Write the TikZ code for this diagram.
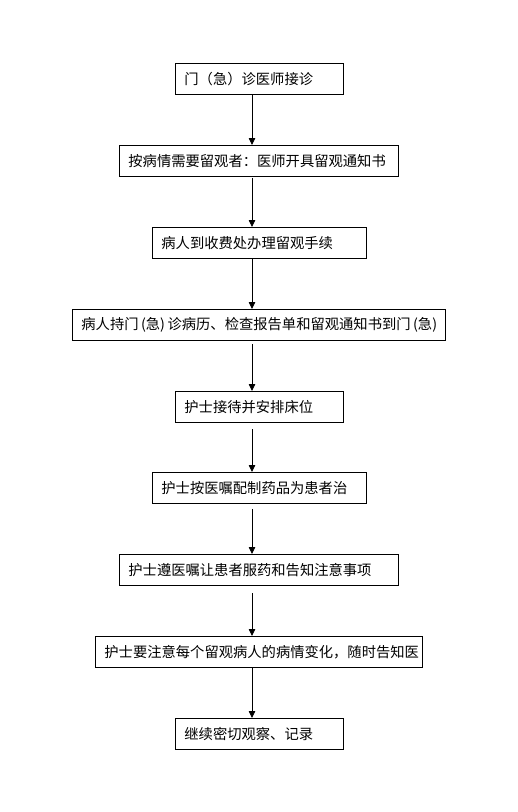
\documentclass[tikz,border=0pt]{standalone}
\usepackage{fontspec}
\setmainfont{Noto Sans CJK SC}
\usetikzlibrary{arrows.meta}
\begin{document}
\begin{tikzpicture}[x=1pt,y=-1pt,
  flowbox/.style={draw=black,line width=0.8pt,rectangle,anchor=north west,
    inner xsep=9pt,inner ysep=0pt,minimum height=31pt,align=left,
    font=\fontsize{14.3pt}{16pt}\selectfont},
  flowarrow/.style={draw=black,line width=0.8pt,-{Triangle[length=7pt,width=6.5pt]}}]
\useasboundingbox[fill=white] (0,0) rectangle (518,812);
\coordinate (ax) at (252,0);
\node[flowbox,text width=150pt] (b1) at (175,63) {门（急）诊医师接诊};
\node[flowbox,text width=261pt] (b2) at (119,145) {按病情需要留观者：医师开具留观通知书};
\node[flowbox,text width=196pt] (b3) at (152,227) {病人到收费处办理留观手续};
\node[flowbox,text width=355pt] (b4) at (72,309) {病人持门\kern2.5pt(急)\kern2.5pt诊病历、检查报告单和留观通知书到门\kern2.5pt(急)};
\node[flowbox,text width=150pt] (b5) at (175,391) {护士接待并安排床位};
\node[flowbox,text width=196pt] (b6) at (152,472) {护士按医嘱配制药品为患者治};
\node[flowbox,text width=261pt] (b7) at (119,554) {护士遵医嘱让患者服药和告知注意事项};
\node[flowbox,text width=309pt] (b8) at (95,636) {护士要注意每个留观病人的病情变化，随时告知医};
\node[flowbox,text width=150pt] (b9) at (175,718) {继续密切观察、记录};
\draw[flowarrow] (b1.south -| ax) -- (b2.north -| ax);
\draw[flowarrow,shorten <=1pt] (b2.south -| ax) -- (b3.north -| ax);
\draw[flowarrow] (b3.south -| ax) -- (b4.north -| ax);
\draw[flowarrow,shorten <=3.5pt] (b4.south -| ax) -- (b5.north -| ax);
\draw[flowarrow,shorten <=6.5pt] (b5.south -| ax) -- (b6.north -| ax);
\draw[flowarrow,shorten <=5pt] (b6.south -| ax) -- (b7.north -| ax);
\draw[flowarrow,shorten <=7.5pt] (b7.south -| ax) -- (b8.north -| ax);
\draw[flowarrow] (b8.south -| ax) -- (b9.north -| ax);
\end{tikzpicture}
\end{document}
